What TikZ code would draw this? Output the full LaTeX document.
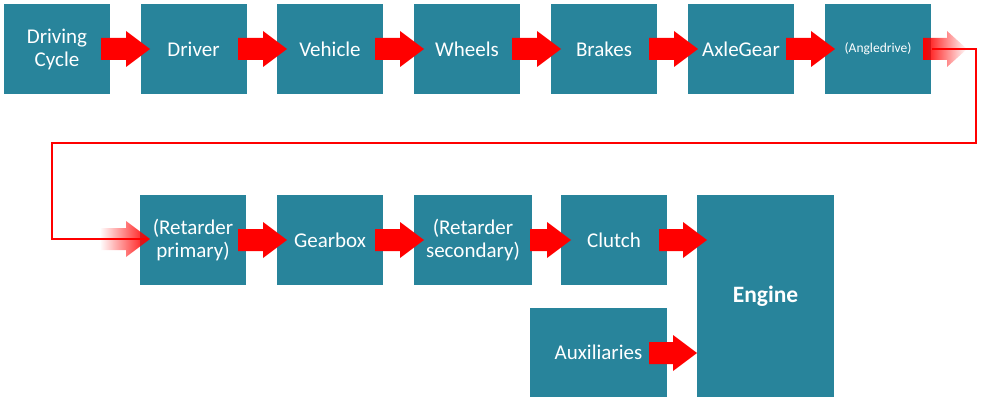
\documentclass[tikz,border=0pt]{standalone}
\usepackage{fontspec}
\setmainfont{Carlito}
\usetikzlibrary{fadings}
\definecolor{teal1}{RGB}{40,132,155}
\tikzfading[name=fadeout, left color=transparent!0, right color=transparent!100]
\tikzfading[name=fadein, left color=transparent!100, right color=transparent!0]
\tikzset{
  blk/.style={fill=teal1, text=white, inner sep=0pt, outer sep=0pt, anchor=north west,
    minimum width=106pt, minimum height=90pt, align=center, font=\fontsize{21}{23}\selectfont},
  flow/.style={fill=red, draw=none},
  link/.style={draw=red, line width=2.6pt}
}
\newcommand{\bigarrow}[3]{% #1 tail x, #2 tip x, #3 center y
  \fill[flow] (#1,{#3-11}) -- ({#2-24},{#3-11}) -- ({#2-24},{#3-18}) -- (#2,#3) -- ({#2-24},{#3+18}) -- ({#2-24},{#3+11}) -- (#1,{#3+11}) -- cycle;}
\begin{document}
\begin{tikzpicture}[x=1pt,y=-1pt]
\useasboundingbox (0,0) rectangle (981,401);
% top row
\node[blk] (dc) at (4,4) {Driving\\Cycle};
\node[blk] (drv) at (140.5,4) {Driver};
\node[blk] (veh) at (277,4) {Vehicle};
\node[blk] (whl) at (414,4) {Wheels};
\node[blk] (brk) at (551,4) {Brakes};
\node[blk] (axl) at (688,4) {AxleGear};
\node[blk, font=\fontsize{13.5}{16}\selectfont] (ang) at (825,4) {(Angledrive)};
% bottom row
\node[blk] (rp) at (140,195) {(Retarder\\primary)};
\node[blk] (gb) at (277,195) {Gearbox};
\node[blk, minimum width=118pt] (rs) at (414,195) {(Retarder\\secondary)};
\node[blk] (cl) at (561,195) {Clutch};
\node[blk, minimum width=137pt, minimum height=202pt, font=\fontsize{23.5}{26}\selectfont\bfseries] (eng) at (697,195) {Engine};
\node[blk, minimum width=137pt, minimum height=89pt] (aux) at (530,308) {Auxiliaries};
% arrows top row
\bigarrow{101}{150}{49}
\bigarrow{238}{287}{49}
\bigarrow{375}{424}{49}
\bigarrow{512}{561}{49}
\bigarrow{649}{698}{49}
\bigarrow{786}{835}{49}
% fading arrows
\fill[red, path fading=fadeout] (923,38) -- (947,38) -- (947,31) -- (967,49) -- (947,67) -- (947,60) -- (923,60) -- cycle;
\fill[red, path fading=fadein] (100,228) -- (126,228) -- (126,221) -- (150,239) -- (126,257) -- (126,250) -- (100,250) -- cycle;
% link line
\coordinate (s) at (932,49);
\coordinate (e) at (148,239);
\draw[link] (s) -- (976,49) -- (976,143) -- (52,143) -- (52,239) -- (e);
% arrows bottom row
\bigarrow{238}{287}{240}
\bigarrow{375}{424}{240}
\bigarrow{530}{571}{240}
\bigarrow{659}{707}{240}
\bigarrow{649}{697}{353}
\end{tikzpicture}
\end{document}
